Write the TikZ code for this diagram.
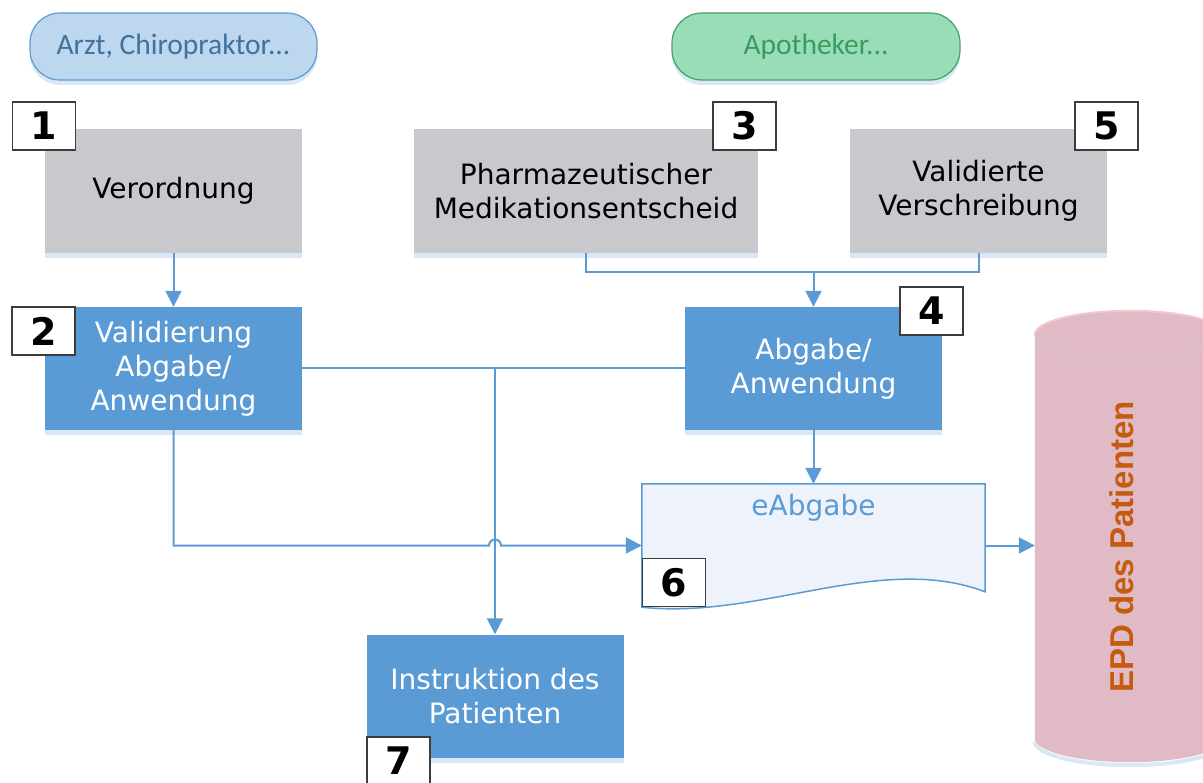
\documentclass[tikz,border=0pt]{standalone}
\usepackage{fontspec}
\setmainfont{DejaVu Sans}
\newfontfamily\pillfont{Carlito}
\newfontfamily\epdfont{Liberation Sans}
\usetikzlibrary{arrows.meta,positioning,calc,shadows}
\definecolor{boxblue}{RGB}{91,155,213}
\definecolor{boxgray}{RGB}{200,201,205}
\definecolor{shadowblue}{RGB}{218,232,245}
\definecolor{pillblue}{RGB}{189,215,238}
\definecolor{pilltextblue}{RGB}{65,113,156}
\definecolor{pillgreen}{RGB}{153,221,184}
\definecolor{pillgreenline}{RGB}{70,160,105}
\definecolor{pilltextgreen}{RGB}{58,155,95}
\definecolor{docfill}{RGB}{238,243,251}
\definecolor{epdfill}{RGB}{224,187,197}
\definecolor{epdtop}{RGB}{245,198,204}
\definecolor{epdtext}{RGB}{197,90,17}
\definecolor{tagline}{RGB}{60,60,60}
\tikzset{
    %Define standard arrow tip
    >={Triangle[length=16pt,width=16pt]},
    %Define style for shadows under the boxes
    shadowed/.style={
           drop shadow={shadow xshift=0pt,shadow yshift=-5pt,fill=shadowblue,opacity=1}},
    %Define style for boxes
    greybox/.style={
           rectangle,
           fill=boxgray,
           minimum height=124pt,
           align=center,
           inner sep=0pt,
           font=\fontsize{28}{34}\selectfont,
           shadowed},
    bluebox/.style={
           rectangle,
           fill=boxblue,
           text=white,
           minimum width=257pt,
           minimum height=123pt,
           align=center,
           inner sep=0pt,
           font=\fontsize{28}{34}\selectfont,
           shadowed},
    pill/.style={
           rectangle,
           rounded corners=30pt,
           line width=1.2pt,
           minimum height=67pt,
           font=\pillfont\fontsize{29.5}{31}\selectfont,
           shadowed},
    tag/.style={
           rectangle,
           draw=tagline, line width=1.2pt,
           fill=white,
           minimum width=63pt,
           minimum height=48pt,
           inner sep=0pt,
           font=\bfseries\fontsize{38}{38}\selectfont},
    docbox/.style={
           rectangle,
           minimum width=343pt,
           minimum height=123pt},
    epdbox/.style={
           rectangle,
           minimum width=190pt,
           minimum height=403pt},
    % Define arrow style
    pil/.style={
           draw=boxblue,
           line width=2pt}
}
\begin{document}
\begin{tikzpicture}[x=1pt,y=-1pt]
\useasboundingbox (0,0) rectangle (1203,783);
\clip (0,0) rectangle (1203,783);
 %nodes
\node[pill, fill=pillblue, draw=boxblue, text=pilltextblue, minimum width=287pt] (arzt) at (173.5,46.5) {Arzt, Chiropraktor...};
\node[pill, fill=pillgreen, draw=pillgreenline, text=pilltextgreen, minimum width=288pt] (apo) at (816,46.5) {Apotheker...};
\node[greybox, minimum width=257pt] (1) at (173.5,191) {Verordnung};
\node[greybox, minimum width=344pt] (3) at (586,191) {Pharmazeutischer\\Medikationsentscheid};
\node[greybox, minimum width=257pt] (5) at (978.5,191) {Validierte\\Verschreibung};
\node[bluebox] (2) at (173.5,368.5) {Validierung\\Abgabe/\\Anwendung};
\node[bluebox] (4) at (813.5,368.5) {Abgabe/\\Anwendung};
\node[bluebox] (7) at (495,696) {Instruktion des\\Patienten};
\node[docbox] (6) at (813.5,545.5) {};
\node[epdbox] (epd) at (1130,536.5) {};
\coordinate (join) at (813.5,272);
 %document and store
\draw[pil, line width=1.5pt, fill=docfill] (6.north west) -- (6.north east) -- ++(0,108)
    .. controls (880,552) and (760,620) .. (6.south west) -- cycle;
\node[text=boxblue, anchor=base, font=\fontsize{28}{34}\selectfont] (doctxt) at (813.5,515) {eAbgabe};
\draw[shadowblue, line width=4pt] ([yshift=-3pt]epd.south west) arc[start angle=180,end angle=360,x radius=95pt,y radius=24pt];
\fill[epdfill] (epd.north west) -- (epd.south west) arc[start angle=180,end angle=360,x radius=95pt,y radius=24pt]
    -- (epd.north east) arc[start angle=0,end angle=180,x radius=95pt,y radius=24pt] -- cycle;
\draw[epdtop, line width=2pt] (epd.north west) arc[start angle=180,end angle=0,x radius=95pt,y radius=24pt];
\draw[black!20, line width=0.8pt] (epd.north west) arc[start angle=180,end angle=360,x radius=95pt,y radius=24pt];
\node[rotate=90, text=epdtext, font=\epdfont\bfseries\fontsize{33}{33}\selectfont] (epdtxt) at (1122,547) {EPD des Patienten};
 %connectors
\draw[pil,->] (1) -- (2);
\draw[pil,->] (4) -- (6);
\draw[pil] (3.south) |- (join) -| (5.south);
\draw[pil,->] (join) -- (4);
\draw[pil] (2) -- (4);
\draw[pil,->] (2.east -| 7.north) -- (7);
\draw[pil,->] (2.south) |- ($(7.north |- 6.west)+(-6pt,0)$) arc[start angle=180,end angle=0,radius=6pt] -- (6.west);
\draw[pil,->] (6.east) -- (6.east -| epd.west);
 %number tags
\node[tag] (t1) at (44,126) {1};
\node[tag] (t2) at (43.5,331) {2};
\node[tag] (t3) at (744.5,126) {3};
\node[tag] (t4) at (931.5,311) {4};
\node[tag] (t5) at (1106.5,126) {5};
\node[tag] (t6) at (674,582.5) {6};
\node[tag] (t7) at (398.5,761) {7};
\end{tikzpicture}
\end{document}
